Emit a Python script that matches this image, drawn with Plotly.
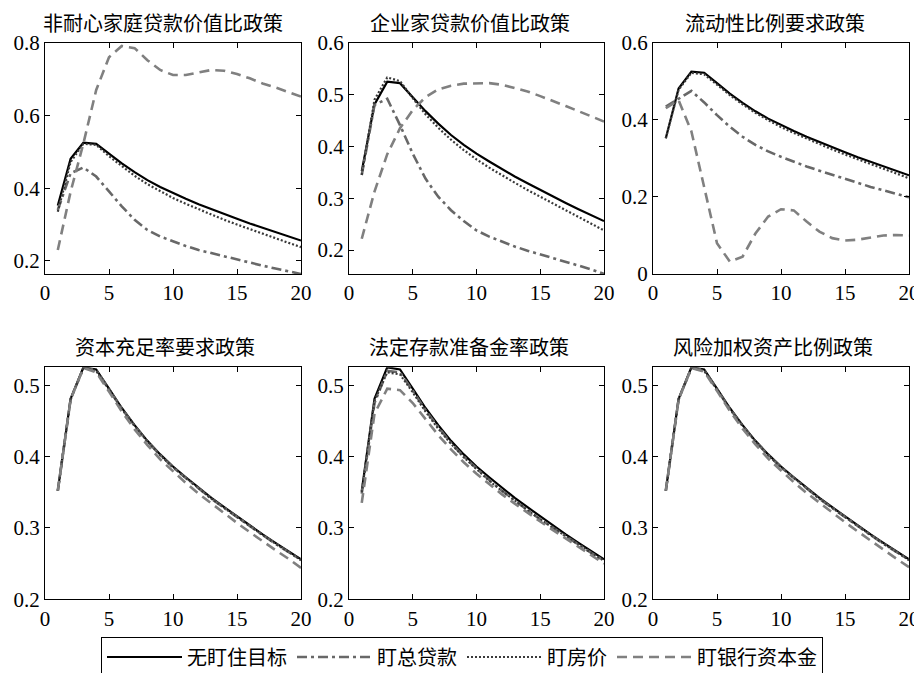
import plotly.graph_objects as go

periods = list(range(1, 21))

series_names = ["无盯住目标", "盯总贷款", "盯房价", "盯银行资本金"]
panel_titles = ["非耐心家庭贷款价值比政策", "企业家贷款价值比政策", "流动性比例要求政策",
                "资本充足率要求政策", "法定存款准备金率政策", "风险加权资产比例政策"]

none_target = [0.352, 0.481, 0.525, 0.522, 0.495, 0.468, 0.444, 0.422, 0.403, 0.386,
               0.371, 0.356, 0.342, 0.329, 0.316, 0.303, 0.291, 0.279, 0.268, 0.256]

p1_loan = [0.340, 0.441, 0.457, 0.432, 0.391, 0.350, 0.313, 0.285, 0.267, 0.253,
           0.241, 0.230, 0.221, 0.212, 0.203, 0.195, 0.187, 0.179, 0.172, 0.164]
p1_house = [0.335, 0.472, 0.522, 0.519, 0.488, 0.460, 0.434, 0.411, 0.391, 0.373,
            0.357, 0.342, 0.327, 0.313, 0.300, 0.287, 0.274, 0.262, 0.250, 0.238]
p1_capital = [0.230, 0.390, 0.523, 0.670, 0.760, 0.791, 0.785, 0.752, 0.725, 0.711,
              0.711, 0.718, 0.725, 0.723, 0.714, 0.702, 0.688, 0.677, 0.665, 0.652]

p2_loan = [0.345, 0.480, 0.492, 0.441, 0.386, 0.338, 0.303, 0.277, 0.256, 0.238,
           0.226, 0.216, 0.207, 0.199, 0.192, 0.185, 0.178, 0.171, 0.163, 0.154]
p2_house = [0.345, 0.490, 0.533, 0.526, 0.493, 0.462, 0.436, 0.413, 0.393, 0.375,
            0.359, 0.344, 0.330, 0.316, 0.303, 0.290, 0.277, 0.264, 0.251, 0.238]
p2_capital = [0.222, 0.313, 0.385, 0.435, 0.470, 0.495, 0.510, 0.517, 0.521, 0.522,
              0.522, 0.519, 0.513, 0.506, 0.497, 0.488, 0.478, 0.468, 0.458, 0.448]

p3_loan = [0.434, 0.455, 0.475, 0.445, 0.412, 0.382, 0.356, 0.335, 0.318, 0.304,
           0.291, 0.279, 0.268, 0.257, 0.246, 0.236, 0.226, 0.217, 0.208, 0.199]
p3_house = [0.352, 0.478, 0.522, 0.518, 0.491, 0.464, 0.440, 0.418, 0.399, 0.381,
            0.366, 0.351, 0.337, 0.323, 0.310, 0.297, 0.285, 0.273, 0.261, 0.248]
p3_capital = [0.430, 0.451, 0.370, 0.227, 0.080, 0.032, 0.045, 0.105, 0.149, 0.168,
              0.165, 0.136, 0.110, 0.093, 0.087, 0.089, 0.095, 0.100, 0.101, 0.100]

p4_loan = [0.352, 0.480, 0.524, 0.521, 0.494, 0.467, 0.443, 0.421, 0.402, 0.385,
           0.370, 0.355, 0.341, 0.328, 0.315, 0.302, 0.290, 0.278, 0.267, 0.255]
p4_house = [0.352, 0.480, 0.524, 0.520, 0.494, 0.467, 0.443, 0.421, 0.402, 0.385,
            0.370, 0.355, 0.341, 0.328, 0.315, 0.302, 0.290, 0.278, 0.267, 0.255]
p4_capital = [0.352, 0.480, 0.524, 0.518, 0.491, 0.463, 0.438, 0.416, 0.396, 0.379,
              0.363, 0.348, 0.334, 0.320, 0.307, 0.294, 0.281, 0.269, 0.257, 0.244]

p5_loan = [0.348, 0.475, 0.520, 0.518, 0.492, 0.465, 0.441, 0.419, 0.400, 0.383,
           0.367, 0.352, 0.338, 0.325, 0.312, 0.300, 0.288, 0.276, 0.265, 0.254]
p5_house = [0.350, 0.478, 0.518, 0.515, 0.490, 0.463, 0.439, 0.418, 0.399, 0.382,
            0.366, 0.352, 0.338, 0.325, 0.312, 0.300, 0.288, 0.276, 0.265, 0.254]
p5_capital = [0.335, 0.460, 0.495, 0.493, 0.475, 0.452, 0.430, 0.410, 0.392, 0.376,
              0.361, 0.347, 0.334, 0.321, 0.309, 0.297, 0.285, 0.273, 0.261, 0.250]

p6_loan = [0.352, 0.480, 0.524, 0.521, 0.494, 0.467, 0.443, 0.421, 0.402, 0.385,
           0.370, 0.355, 0.341, 0.328, 0.315, 0.302, 0.290, 0.278, 0.267, 0.255]
p6_house = [0.352, 0.480, 0.524, 0.520, 0.494, 0.467, 0.443, 0.421, 0.402, 0.385,
            0.370, 0.355, 0.341, 0.328, 0.315, 0.302, 0.290, 0.278, 0.267, 0.255]
p6_capital = [0.352, 0.480, 0.524, 0.519, 0.492, 0.464, 0.439, 0.417, 0.397, 0.380,
              0.364, 0.349, 0.335, 0.321, 0.308, 0.295, 0.282, 0.270, 0.257, 0.245]

x_ticks = [0, 5, 10, 15, 20]
y_ticks_p1 = [0.2, 0.4, 0.6, 0.8]
y_ticks_p2 = [0.2, 0.3, 0.4, 0.5, 0.6]
y_ticks_p3 = [0, 0.2, 0.4, 0.6]
y_ticks_bottom = [0.2, 0.3, 0.4, 0.5]
y_tick_labels_p1 = ["0.2", "0.4", "0.6", "0.8"]
y_tick_labels_p2 = ["0.2", "0.3", "0.4", "0.5", "0.6"]
y_tick_labels_p3 = ["0", "0.2", "0.4", "0.6"]
y_tick_labels_bottom = ["0.2", "0.3", "0.4", "0.5"]

panels = [
    (none_target, p1_loan, p1_house, p1_capital, [0.164, 0.8], y_ticks_p1, y_tick_labels_p1),
    (none_target, p2_loan, p2_house, p2_capital, [0.154, 0.6], y_ticks_p2, y_tick_labels_p2),
    (none_target, p3_loan, p3_house, p3_capital, [0.0, 0.6], y_ticks_p3, y_tick_labels_p3),
    (none_target, p4_loan, p4_house, p4_capital, [0.2, 0.525], y_ticks_bottom, y_tick_labels_bottom),
    (none_target, p5_loan, p5_house, p5_capital, [0.2, 0.525], y_ticks_bottom, y_tick_labels_bottom),
    (none_target, p6_loan, p6_house, p6_capital, [0.2, 0.525], y_ticks_bottom, y_tick_labels_bottom),
]

# page body has an 8px margin: figure is drawn 8px in from the window's top-left
OFF = 8
W, H = 922 - OFF, 673 - OFF
x_domains_px = [(45, 301), (349, 604), (653, 909)]
y_domains_px = [(42.7, 274), (367.3, 599.3)]
title_x = [0.46, 0.475, 0.475, 0.47, 0.47, 0.47]

styles = [
    dict(color="#000000", width=2.2, dash="solid"),
    dict(color="#686868", width=2.6, dash="10px,4px,3px,4px"),
    dict(color="#3a3a3a", width=2.2, dash="2px,2px"),
    dict(color="#808080", width=2.6, dash="10px,6px"),
]

serif = "Liberation Serif, Times New Roman, Noto Sans CJK SC, serif"
cjk = "Noto Sans CJK SC, sans-serif"

fig = go.Figure()
layout_axes = {}
annotations = []
for i, (a, b, c, d, yr, yt, ytt) in enumerate(panels):
    r, col = divmod(i, 3)
    k = "" if i == 0 else str(i + 1)
    for j, ys in enumerate([a, b, c, d]):
        fig.add_trace(go.Scatter(
            x=periods, y=ys, mode="lines", name=series_names[j],
            line=styles[j], showlegend=(i == 0),
            xaxis="x" + k, yaxis="y" + k,
        ))
    xd = x_domains_px[col]
    yd = y_domains_px[r]
    axis_common = dict(showline=True, linecolor="black", linewidth=1.2, mirror="ticks",
                       ticks="inside", ticklen=5, tickcolor="black", showgrid=False,
                       zeroline=False, automargin=False,
                       tickfont=dict(family=serif, size=21, color="black"))
    layout_axes["xaxis" + k] = dict(domain=[(xd[0] - OFF) / W, (xd[1] - OFF) / W], range=[0, 20],
                                    tickvals=x_ticks, anchor="y" + k, **axis_common)
    layout_axes["yaxis" + k] = dict(domain=[1 - (yd[1] - OFF) / H, 1 - (yd[0] - OFF) / H], range=yr,
                                    tickvals=yt, ticktext=ytt, anchor="x" + k, **axis_common)
    annotations.append(dict(text=panel_titles[i], xref="x" + k + " domain", yref="y" + k + " domain",
                            x=title_x[i], y=1, yshift=4, xanchor="center", yanchor="bottom",
                            showarrow=False, font=dict(family=cjk, size=20, color="black")))

fig.update_layout(
    width=W, height=H,
    margin=dict(l=0, r=0, t=0, b=0, autoexpand=False),
    paper_bgcolor="white", plot_bgcolor="white",
    annotations=annotations,
    legend=dict(orientation="h", x=(462 - OFF) / W, y=1 - (657 - OFF) / H,
                xanchor="center", yanchor="middle",
                bordercolor="black", borderwidth=1, bgcolor="white",
                font=dict(family=cjk, size=20, color="black"),
                itemwidth=75, tracegroupgap=0),
    **layout_axes,
)

fig.write_html("out.html")
